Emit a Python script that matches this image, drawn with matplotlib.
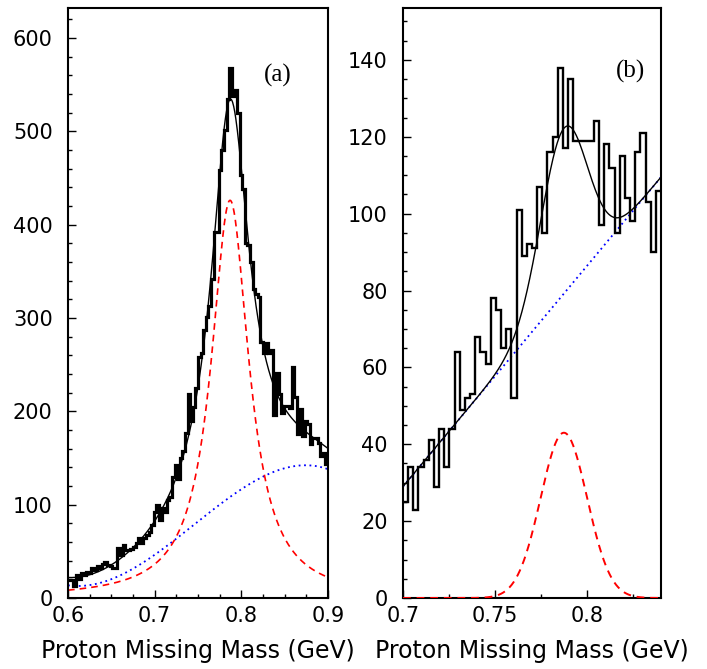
import numpy as np
import matplotlib
matplotlib.use("Agg")
import matplotlib.pyplot as plt
from matplotlib.ticker import FixedLocator, MultipleLocator

# ---------------- Panel (a) data ----------------
a_range = (0.6, 0.9)
a_counts = [19, 19, 13, 25, 20, 27, 25, 28, 27, 32,
            30, 34, 32, 36, 39, 35, 34, 32, 32, 54,
            46, 57, 51, 51, 53, 55, 59, 64, 59, 64,
            67, 71, 78, 92, 100, 84, 96, 92, 105, 108,
            130, 143, 128, 150, 157, 177, 219, 190, 205, 225,
            258, 262, 287, 301, 313, 342, 392, 392, 458, 480,
            501, 535, 568, 538, 544, 519, 453, 438, 380, 378,
            360, 331, 326, 322, 274, 262, 273, 262, 266, 196,
            241, 219, 198, 206, 206, 204, 247, 215, 176, 202,
            174, 190, 186, 165, 171, 171, 166, 152, 155, 144]
# Breit-Wigner signal: amplitude, mass, half-width
a_signal = [426.0, 0.787, 0.0265]
# background curve points
a_bg_mass = [0.6015, 0.621, 0.648, 0.675, 0.702, 0.725, 0.752, 0.775,
             0.802, 0.829, 0.8525, 0.874, 0.898]
a_bg_val = [12.9, 13.6, 20.7, 31.4, 45.7, 63.6, 83.2, 101, 119, 131, 139, 142, 139]
a_xticks = [0.6, 0.7, 0.8, 0.9]
a_xticklabels = ["0.6", "0.7", "0.8", "0.9"]
a_yticks = [0, 100, 200, 300, 400, 500, 600]
a_ylim = (0, 632)

# ---------------- Panel (b) data ----------------
b_range = (0.7, 0.84)
b_counts = [25, 34, 23, 34, 36, 41, 29, 44, 34, 44,
            64, 49, 52, 53, 68, 64, 61, 78, 75, 65,
            70, 52, 101, 89, 92, 91, 107, 95, 116, 120,
            138, 117, 135, 119, 119, 119, 119, 124, 97, 118,
            112, 95, 115, 104, 98, 116, 121, 103, 90, 106]
# Gaussian signal: amplitude, mean, sigma
b_signal = [43.0, 0.7873, 0.0126]
b_bg_mass = [0.70, 0.84]
b_bg_val = [29.0, 109.5]
b_xticks = [0.7, 0.75, 0.8]
b_xticklabels = ["0.7", "0.75", "0.8"]
b_yticks = [0, 20, 40, 60, 80, 100, 120, 140]
b_ylim = (0, 153.5)

W, H = 707, 669
fig = plt.figure(figsize=(W / 100, H / 100), dpi=100)
axa = fig.add_axes([68 / W, 71 / H, 260 / W, 590 / H])
axb = fig.add_axes([403 / W, 71 / H, 258 / W, 590 / H])

TICK_FONT = 15


def style(ax, xticks, xlabels, yticks, xminor, yminor):
    ax.xaxis.set_major_locator(FixedLocator(xticks))
    ax.set_xticklabels(xlabels)
    ax.yaxis.set_major_locator(FixedLocator(yticks))
    ax.set_yticklabels([str(v) for v in yticks])
    ax.xaxis.set_minor_locator(MultipleLocator(xminor))
    ax.yaxis.set_minor_locator(MultipleLocator(yminor))
    ax.tick_params(which="both", direction="in", top=False, right=False,
                   width=1.0, colors="black")
    ax.tick_params(which="major", length=5.8)
    ax.tick_params(which="minor", length=2.9)
    ax.tick_params(axis="x", which="major", pad=6, labelsize=TICK_FONT)
    ax.tick_params(axis="y", which="major", pad=11, labelsize=TICK_FONT)
    for s in ax.spines.values():
        s.set_linewidth(1.5)
        s.set_zorder(10)


def bw(x, p):
    amp, m0, hw = p
    return amp / (1.0 + ((x - m0) / hw) ** 2)


def gauss(x, p):
    amp, mu, sig = p
    return amp * np.exp(-0.5 * ((x - mu) / sig) ** 2)


# ---- panel (a) ----
a_edges = np.linspace(a_range[0], a_range[1], len(a_counts) + 1)
xa = np.linspace(a_range[0], a_range[1], 500)
bg_a = np.polyval(np.polyfit(a_bg_mass, a_bg_val, 4), xa)
sig_a = bw(xa, a_signal)
axa.plot(xa, bg_a, color="blue", lw=1.3, ls=(0, (1, 2)), zorder=3)
axa.plot(xa, sig_a, color="red", lw=1.2, ls=(0, (4, 3)), zorder=3)
axa.stairs(a_counts, a_edges, baseline=None, color="black", lw=2.3, zorder=4)
axa.plot(xa, sig_a + bg_a, color="black", lw=1.0, zorder=5)
axa.set_xlim(*a_range)
axa.set_ylim(*a_ylim)
style(axa, a_xticks, a_xticklabels, a_yticks, 0.025, 20)
axa.text(0.842, 560, "(a)", fontsize=18, family=["Liberation Serif", "DejaVu Serif"],
         ha="center", va="center")

# ---- panel (b) ----
b_edges = np.linspace(b_range[0], b_range[1], len(b_counts) + 1)
xb = np.linspace(b_range[0], b_range[1], 500)
bg_b = np.polyval(np.polyfit(b_bg_mass, b_bg_val, 1), xb)
sig_b = gauss(xb, b_signal)
axb.plot(xb, bg_b, color="blue", lw=1.3, ls=(0, (1, 2)), zorder=3)
axb.plot(xb, sig_b, color="red", lw=1.4, ls=(0, (4, 3)), zorder=11)
axb.stairs(b_counts, b_edges, baseline=None, color="black", lw=1.7, zorder=4)
axb.plot(xb, sig_b + bg_b, color="black", lw=1.0, zorder=5)
axb.set_xlim(*b_range)
axb.set_ylim(*b_ylim)
style(axb, b_xticks, b_xticklabels, b_yticks, 0.025, 5)
axb.text(0.8234, 137, "(b)", fontsize=18, family=["Liberation Serif", "DejaVu Serif"],
         ha="center", va="center")

# x-axis titles
fig.text(198 / W, 1 - 651 / H, "Proton Missing Mass (GeV)", fontsize=17,
         ha="center", va="center")
fig.text(532 / W, 1 - 651 / H, "Proton Missing Mass (GeV)", fontsize=17,
         ha="center", va="center")

fig.savefig("out.png", dpi=100)
